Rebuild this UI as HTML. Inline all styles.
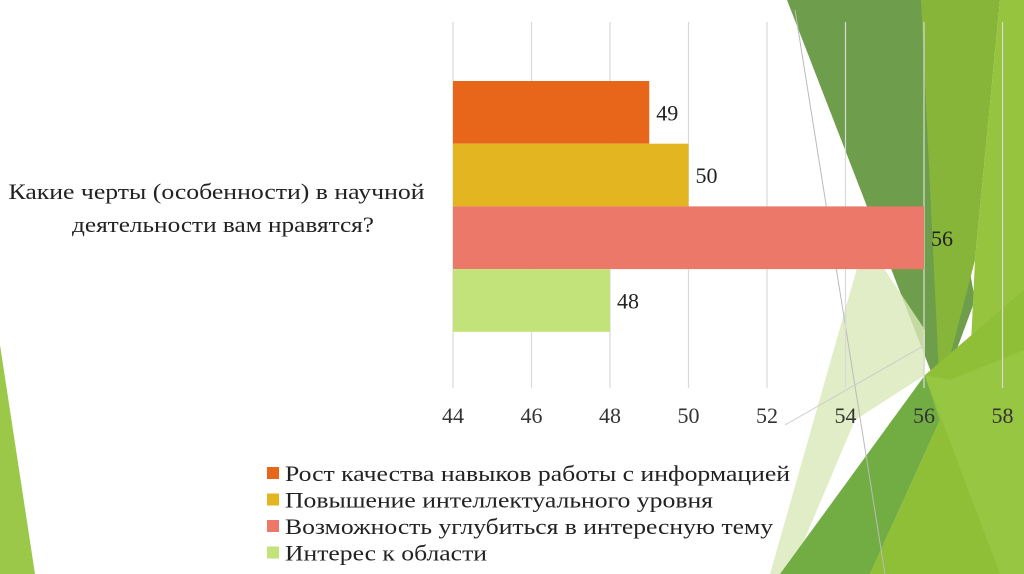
<!DOCTYPE html>
<html><head><meta charset="utf-8">
<style>
html,body{margin:0;padding:0;background:#fff;}
body{width:1024px;height:574px;overflow:hidden;position:relative;font-family:"Liberation Serif",serif;}
svg{position:absolute;left:0;top:0;}
</style></head>
<body>
<svg id="chart" width="1024" height="574" viewBox="0 0 1024 574">
  <g id="deco">
    <polygon points="0,345 35,574 0,574" fill="#9bc848"/>
    <polygon points="787,0 921,0 975,300 940,395" fill="#6e9e4c"/>
    <polygon points="921,0 1000,0 975,260 940,395" fill="#86b53a"/>
    <polygon points="1000,0 1024,0 1024,574 960,574 975,260" fill="#96c43e"/>
    <polygon points="865,240 925,330 925,375 855,420 790,574 770,574" fill="#d9e8b8" opacity="0.8"/>
    <polygon points="925,375 1024,290 1024,574 870,574 940,420" fill="#8fbf36"/>
    <polygon points="925,375 950,380 1024,350 1024,574 1000,574" fill="#9ac948" opacity="0.7"/>
    <polygon points="925,375 940,420 870,574 780,574" fill="#72ad44"/>
    <line x1="795" y1="10" x2="885" y2="574" stroke="#bbb" stroke-width="1"/>
    <line x1="785" y1="425" x2="925" y2="345" stroke="#ccc" stroke-width="1"/>
  </g>
  <g id="grid"></g>
  <g id="bars"></g>
  <g id="ticks"></g>
  <text font-size="22" fill="#222" text-anchor="end">
    <tspan x="430" y="199" textLength="416" lengthAdjust="spacingAndGlyphs">Какие черты (особенности) в научной</tspan>
    <tspan x="374" y="232" textLength="302" lengthAdjust="spacingAndGlyphs">деятельности вам нравятся?</tspan>
  </text>
  <g id="legend"></g>
</svg>
<script>
const series = ["Рост качества навыков работы с информацией","Повышение интеллектуального уровня","Возможность углубиться в интересную тему","Интерес к области"];
const values = [49, 50, 56, 48];
const colors = ["#e8661a","#e3b520","#eb7868","#c2e27a"];
const ticks = [44, 46, 48, 50, 52, 54, 56, 58];

const legendTextWidths = [505, 428, 488, 202];
const NS = "http://www.w3.org/2000/svg";
const x0 = 453, xmin = 44, pxPer = 39.25;
function xs(v){ return x0 + (v - xmin) * pxPer; }
function mk(tag, attrs, parent){ const e=document.createElementNS(NS,tag); for(const k in attrs) e.setAttribute(k, attrs[k]); parent.appendChild(e); return e; }
const grid = document.getElementById('grid'), ticksG = document.getElementById('ticks');
ticks.forEach(t => {
  const l = mk('line',{x1:xs(t),x2:xs(t),y1:22,y2:388,stroke:'#d9d9d9','stroke-width':1.2},grid);
  
  
  const tx = mk('text',{x:xs(t),y:423,'font-size':22,'text-anchor':'middle',fill:'#333'},ticksG);
  tx.textContent = t;
  
  
});
const barsG = document.getElementById('bars');
const top0 = 81, bh = 62.7;
values.forEach((v,i) => {
  const y = top0 + i*bh;
  const r = mk('rect',{x:x0,y:y,width:xs(v)-x0,height:bh,fill:colors[i]},barsG);
  
  
  const t = mk('text',{x:xs(v)+7,y:y+bh/2+8,'font-size':22,fill:'#222'},barsG);
  t.textContent = v;
  
  
});
const leg = document.getElementById('legend');
series.forEach((s,i) => {
  const y = 474 + i*26.5;
  const sq = mk('rect',{x:267,y:y-7,width:12,height:12,fill:colors[i]},leg);
  
  
  const t = mk('text',{x:285,y:y+7,'font-size':22,fill:'#222',textLength:String(legendTextWidths[i]),lengthAdjust:'spacingAndGlyphs'},leg);
  t.textContent = s;
  
  
});
</script>
</body></html>
